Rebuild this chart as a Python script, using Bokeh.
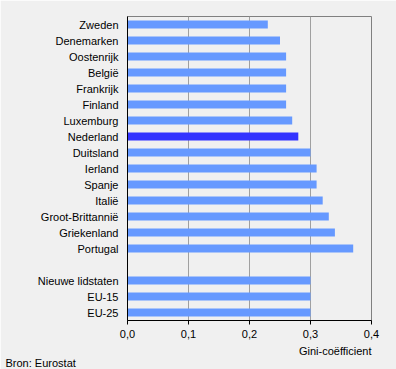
from bokeh.plotting import figure
from bokeh.models import ColumnDataSource, FactorRange, Range1d, FixedTicker, Title
from bokeh.embed import file_html
from bokeh.resources import INLINE

countries = ["Zweden", "Denemarken", "Oostenrijk", "België", "Frankrijk", "Finland",
             "Luxemburg", "Nederland", "Duitsland", "Ierland", "Spanje", "Italië",
             "Groot-Brittannië", "Griekenland", "Portugal",
             "Nieuwe lidstaten", "EU-15", "EU-25"]
gini = [0.23, 0.25, 0.26, 0.26, 0.26, 0.26, 0.27, 0.28, 0.30, 0.31, 0.31, 0.32,
        0.33, 0.34, 0.37, 0.30, 0.30, 0.30]
highlight = "Nederland"
x_ticks = [0.0, 0.1, 0.2, 0.3, 0.4]
x_tick_labels = ["0,0", "0,1", "0,2", "0,3", "0,4"]

BLANK = " "
order = countries[:15] + [BLANK] + countries[15:]
factors = list(reversed(order))

colors = ["#3333FF" if c == highlight else "#6699FF" for c in countries]
src = ColumnDataSource(dict(y=countries, x=gini, color=colors))

FONT = "Liberation Sans"
p = figure(width=396, height=369, output_backend="svg", toolbar_location=None,
           y_range=FactorRange(factors=factors, range_padding=0),
           x_range=Range1d(0, 0.4),
           min_border_left=127, min_border_right=25, min_border_top=16, min_border_bottom=49)
p.background_fill_color = "#F0F0F0"
p.border_fill_color = "#F0F0F0"
p.outline_line_color = "#808080"
p.outline_line_width = 1

p.hbar(y="y", right="x", left=0, height=0.5, color="color", source=src, line_color=None)

p.ygrid.grid_line_color = None
p.xgrid.grid_line_color = "#A0A0A0"
p.xgrid.ticker = FixedTicker(ticks=x_ticks)

p.xaxis.ticker = FixedTicker(ticks=x_ticks)
p.xaxis.major_label_overrides = {t: l for t, l in zip(x_ticks, x_tick_labels)}
p.xaxis.axis_line_color = "black"
p.xaxis.major_tick_line_color = "black"
p.xaxis.major_tick_out = 4
p.xaxis.major_tick_in = 0
p.xaxis.minor_tick_line_color = None
p.xaxis.major_label_standoff = 5
p.xaxis.major_label_text_font = FONT
p.xaxis.major_label_text_font_size = "11px"
p.xaxis.major_label_text_color = "black"

p.yaxis.axis_line_color = "black"
p.yaxis.major_tick_line_color = None
p.yaxis.major_tick_out = 0
p.yaxis.major_label_standoff = 9
p.yaxis.major_label_text_font = FONT
p.yaxis.major_label_text_font_size = "11px"
p.yaxis.major_label_text_color = "black"

t1 = Title(text="Gini-coëfficient", align="right", text_font=FONT, text_font_size="11px",
           text_font_style="normal", text_color="black", standoff=4, offset=0)
t2 = Title(text="Bron: Eurostat", align="left", text_font=FONT, text_font_size="11px",
           text_font_style="normal", text_color="black", standoff=-20, offset=-122)
p.add_layout(t1, "below")
p.add_layout(t2, "below")

open("out.html", "w").write(file_html(p, INLINE))
